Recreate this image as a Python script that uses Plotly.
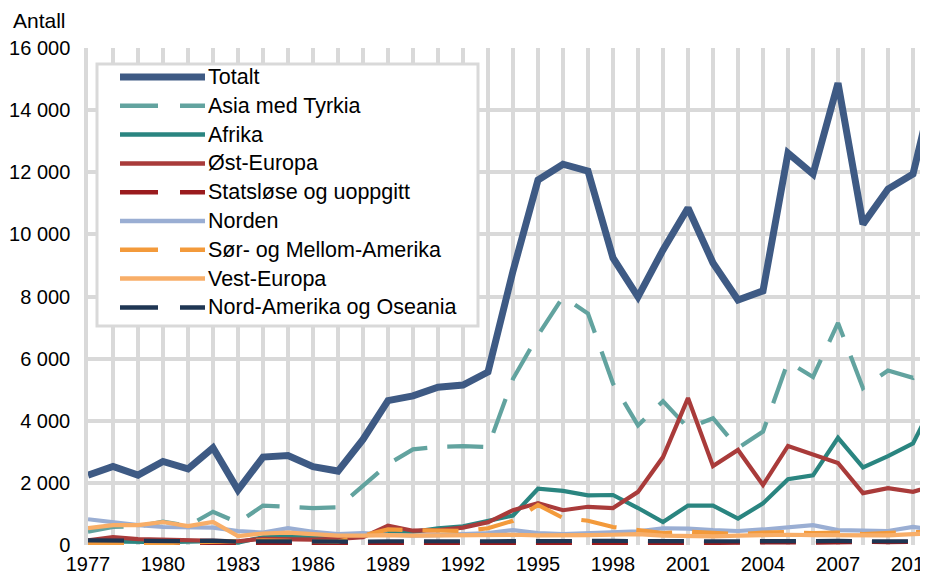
import plotly.graph_objects as go

years = list(range(1977, 2012))

totalt = [2250, 2530, 2250, 2690, 2450, 3130, 1770, 2830, 2880, 2520,
          2380, 3400, 4650, 4800, 5080, 5150, 5570, 8820, 11750, 12260,
          12040, 9240, 7990, 9500, 10850, 9080, 7890, 8180, 12620, 11940,
          14870, 10330, 11460, 11940, 15300]
asia = [430, 580, 600, 750, 620, 1070, 720, 1270, 1230, 1190,
        1210, 1900, 2600, 3080, 3160, 3180, 3150, 5350, 6750, 7990,
        7450, 5200, 3850, 4630, 3770, 4080, 3120, 3650, 5900, 5410,
        7150, 5050, 5620, 5380, 6050]
afrika = [120, 100, 80, 90, 110, 120, 80, 250, 270, 240,
          260, 330, 380, 420, 540, 600, 760, 950, 1810, 1740,
          1600, 1610, 1190, 740, 1270, 1270, 850, 1340, 2120, 2240,
          3450, 2500, 2860, 3270, 4850]
ost = [150, 250, 190, 180, 150, 160, 120, 200, 170, 170,
       200, 250, 620, 460, 480, 560, 730, 1120, 1350, 1120,
       1230, 1190, 1710, 2830, 4730, 2540, 3060, 1930, 3190, 2930,
       2640, 1670, 1830, 1710, 1950]
statslose = [80, 90, 60, 70, 50, 60, 40, 60, 50, 40,
             50, 60, 80, 60, 50, 40, 60, 60, 50, 60,
             50, 50, 40, 50, 60, 60, 70, 80, 90, 70,
             90, 100, 90, 100, 1200]
norden = [830, 720, 640, 580, 560, 560, 450, 400, 540, 420,
          350, 380, 330, 300, 320, 350, 380, 480, 380, 350,
          380, 400, 440, 540, 530, 480, 450, 500, 560, 640,
          480, 460, 450, 580, 480]
sor = [60, 50, 40, 60, 80, 100, 120, 150, 130, 120,
       110, 300, 500, 480, 450, 450, 540, 780, 1290, 870,
       780, 580, 480, 380, 430, 380, 350, 400, 420, 380,
       400, 350, 380, 420, 400]
vest = [540, 640, 640, 740, 610, 740, 290, 370, 400, 350,
        300, 300, 320, 300, 310, 300, 320, 330, 310, 300,
        320, 330, 350, 300, 280, 280, 300, 320, 330, 320,
        310, 300, 310, 350, 380]
nordam = [150, 140, 120, 130, 120, 140, 110, 120, 110, 110,
          100, 110, 120, 110, 110, 120, 120, 130, 120, 120,
          130, 130, 120, 120, 130, 120, 120, 130, 130, 120,
          130, 120, 120, 130, 120]

names = ["Totalt", "Asia med Tyrkia", "Afrika", "Øst-Europa", "Statsløse og uoppgitt",
         "Norden", "Sør- og Mellom-Amerika", "Vest-Europa", "Nord-Amerika og Oseania"]
values = [totalt, asia, afrika, ost, statslose, norden, sor, vest, nordam]
colors = ["#3E5A84", "#62A39F", "#2A8580", "#A93B3A", "#9A1B1E",
          "#9AAED3", "#F39A3B", "#F8AE68", "#1F3653"]
dashed = [False, True, False, False, True, False, True, False, True]

FONT = "Liberation Sans, Arial, sans-serif"
GRID = "#d9d9d9"
DASH = "36px,20px"

# the page puts the figure 8px in from the top-left corner
OFF = 8
# plot area in page pixels
L, T, W, H = 88, 48, 840, 497


def px(x):
    return (x - L) / W


def py(y):
    return (T + H - y) / H


fig = go.Figure()
for name, vals, col, d in zip(names, values, colors, dashed):
    fig.add_trace(go.Scatter(
        x=years, y=vals, mode="lines", name=name,
        line=dict(color=col, width=7 if name == "Totalt" else 4.2,
                  dash=DASH if d else "solid"),
        showlegend=False,
    ))

# hand-made legend box (long line samples like the original)
shapes = [dict(type="rect", xref="paper", yref="paper",
               x0=px(97), x1=px(478), y0=py(326), y1=py(64),
               fillcolor="white", line=dict(color=GRID, width=3), layer="above")]
annotations = []
for i, (name, col, d) in enumerate(zip(names, colors, dashed)):
    yy = 77 + i * 28.8
    shapes.append(dict(type="line", xref="paper", yref="paper",
                       x0=px(120), x1=px(205), y0=py(yy), y1=py(yy),
                       line=dict(color=col, width=7 if i == 0 else 4.5,
                                 dash="38px,22px" if d else "solid"),
                       layer="above"))
    annotations.append(dict(xref="paper", yref="paper", x=px(206), y=py(yy),
                            text=name, showarrow=False, xanchor="left", yanchor="middle",
                            font=dict(size=21.5, color="black", family=FONT)))

annotations.append(dict(xref="paper", yref="paper", x=px(11), y=py(20),
                        text="Antall", showarrow=False, xanchor="left", yanchor="middle",
                        font=dict(size=21, color="black", family=FONT)))

fig.update_layout(
    width=928 - OFF, height=576 - OFF,
    margin=dict(l=L - OFF, r=0, t=T - OFF, b=576 - T - H),
    paper_bgcolor="white", plot_bgcolor="white",
    font=dict(family=FONT, size=20, color="black"),
    separators=", ",
    shapes=shapes, annotations=annotations,
    showlegend=False,
)
fig.update_xaxes(
    range=[1977, 1977 + W / 25], tickmode="linear", tick0=1977, dtick=3,
    showgrid=True, gridcolor=GRID, gridwidth=3.5,
    minor=dict(tickmode="linear", tick0=1977, dtick=1, showgrid=True,
               gridcolor=GRID, gridwidth=3.5),
    showline=False, zeroline=False, ticks="", ticklabelstandoff=5,
    ticklabeloverflow="allow", automargin=False,
)
fig.update_yaxes(
    range=[0, 16000], tickmode="linear", tick0=0, dtick=2000, tickformat=",d",
    showgrid=True, gridcolor=GRID, gridwidth=3.5,
    showline=True, linecolor=GRID, linewidth=3.5, zeroline=False,
    ticks="", ticklabelstandoff=10, automargin=False,
)

fig.write_html("out.html")
